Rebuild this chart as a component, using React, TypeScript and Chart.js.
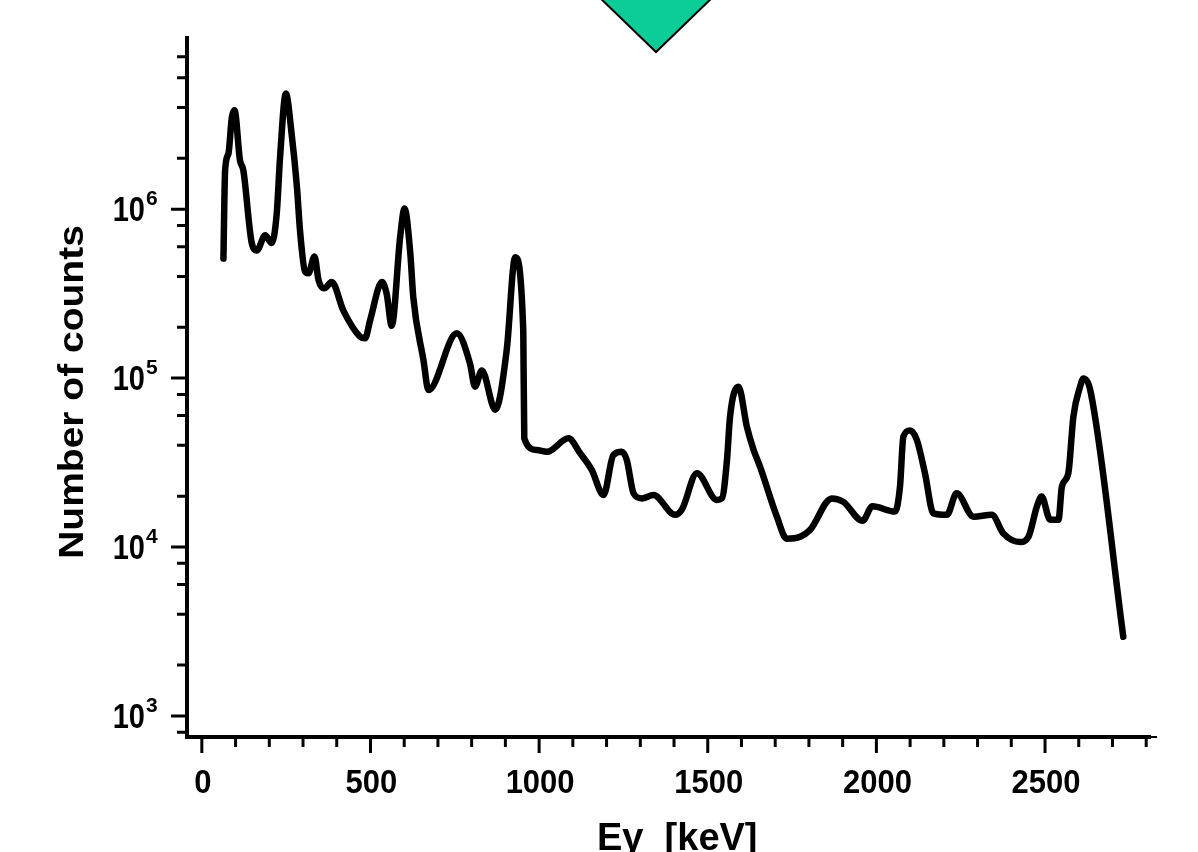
import React, { useEffect, useRef } from "react";
import { Chart, registerables } from "chart.js";

Chart.register(...registerables);

// Energy (keV) of traced points along the spectrum
const energies = [
  64, 69, 79, 89, 97, 113, 123, 148, 163, 188, 207, 222, 232, 249, 267, 282, 291, 306, 316, 334,
  346, 363, 385, 420, 469, 484, 499, 534, 548, 563, 588, 601, 618, 627, 657, 672, 756, 795, 810, 830,
  870, 904, 929, 953, 956, 993, 1023, 1087, 1122, 1156, 1191, 1220, 1245, 1260, 1280, 1305, 1339, 1403, 1423, 1468,
  1527, 1542, 1557, 1566, 1591, 1616, 1636, 1655, 1705, 1734, 1774, 1803, 1868, 1902, 1959, 1988, 2055, 2070, 2080, 2100,
  2120, 2144, 2169, 2209, 2238, 2288, 2342, 2377, 2426, 2451, 2476, 2490, 2515, 2540, 2550, 2569, 2584, 2604, 2614, 2634,
  2732,
];

// Number of counts at each energy
const counts = [
  5.1e5, 1.7e6, 2.14e6, 3.5e6, 3.85e6, 1.95e6, 1.7e6, 6.3e5, 5.7e5, 7.0e5, 6.3e5, 9.4e5, 2.04e6, 4.84e6, 2.7e6, 1.35e6, 7.5e5, 4.27e5, 4.17e5, 5.25e5,
  3.8e5, 3.4e5, 3.7e5, 2.5e5, 1.76e5, 1.72e5, 2.2e5, 3.7e5, 3.16e5, 2.04e5, 6.85e5, 1.01e6, 5.5e5, 3.0e5, 1.28e5, 8.5e4, 1.84e5, 1.22e5, 8.9e4, 1.11e5,
  6.5e4, 1.47e5, 5.2e5, 1.92e5, 4.4e4, 3.75e4, 3.66e4, 4.4e4, 3.58e4, 2.86e4, 2.03e4, 3.5e4, 3.66e4, 3.27e4, 2.08e4, 1.94e4, 2.03e4, 1.55e4, 1.66e4, 2.73e4,
  1.9e4, 1.94e4, 3.27e4, 5.9e4, 8.9e4, 5.15e4, 3.75e4, 2.99e4, 1.51e4, 1.12e4, 1.15e4, 1.26e4, 1.94e4, 1.85e4, 1.43e4, 1.74e4, 1.62e4, 2.28e4, 4.5e4, 4.9e4,
  4.3e4, 2.73e4, 1.58e4, 1.55e4, 2.08e4, 1.51e4, 1.55e4, 1.2e4, 1.07e4, 1.15e4, 1.74e4, 1.99e4, 1.45e4, 1.45e4, 2.28e4, 2.73e4, 5.9e4, 8.9e4, 9.95e4, 8.5e4,
  2.94e3,
];

const xMajorTicks = [0, 500, 1000, 1500, 2000, 2500];
const xMinorTicks = [100, 200, 300, 400, 600, 700, 800, 900, 1100, 1200, 1300, 1400, 1600, 1700, 1800, 1900, 2100, 2200, 2300, 2400, 2600, 2700, 2800];
const yDecadeExponents = [3, 4, 5, 6];
const yMinorMultipliers = [2, 4, 6, 8];
const yMinorDecades = [2, 3, 4, 5, 6];

const xTitle = "Eγ  [keV]";
const yTitle = "Number of counts";

const FONT = "'Liberation Sans', Arial, sans-serif";

function drawText(
  ctx: CanvasRenderingContext2D,
  text: string,
  x: number,
  y: number,
  size: number,
  align: CanvasTextAlign,
  sx = 1,
  sy = 1,
  rot = 0,
  weight = "bold"
) {
  ctx.save();
  ctx.translate(x, y);
  if (rot) ctx.rotate(rot);
  ctx.scale(sx, sy);
  ctx.font = `${weight} ${size}px ${FONT}`;
  ctx.textAlign = align;
  ctx.textBaseline = "alphabetic";
  ctx.fillStyle = "#000";
  ctx.fillText(text, 0, 0);
  ctx.restore();
}

const decorPlugin = {
  id: "decor",
  afterDraw(chart: any) {
    const { ctx, chartArea, scales } = chart;
    const xs = scales.x;
    const ys = scales.y;
    const { left, right, top, bottom } = chartArea;
    ctx.save();
    ctx.strokeStyle = "#000";
    ctx.lineCap = "butt";

    // axes
    ctx.lineWidth = 4;
    ctx.beginPath();
    ctx.moveTo(left, top);
    ctx.lineTo(left, bottom + 2);
    ctx.moveTo(left - 2, bottom);
    ctx.lineTo(right - 6, bottom);
    ctx.stroke();
    ctx.lineWidth = 2;
    ctx.beginPath();
    ctx.moveTo(right - 8, bottom);
    ctx.lineTo(right, bottom);
    ctx.stroke();

    // x ticks
    ctx.lineWidth = 3;
    ctx.beginPath();
    for (const v of xMajorTicks) {
      const px = xs.getPixelForValue(v);
      ctx.moveTo(px, bottom);
      ctx.lineTo(px, bottom + 16);
    }
    for (const v of xMinorTicks) {
      const px = xs.getPixelForValue(v);
      ctx.moveTo(px, bottom);
      ctx.lineTo(px, bottom + 10);
    }
    // y ticks
    for (const e of yDecadeExponents) {
      const py = ys.getPixelForValue(Math.pow(10, e));
      ctx.moveTo(left, py);
      ctx.lineTo(left - 16, py);
    }
    for (const d of yMinorDecades) {
      for (const m of yMinorMultipliers) {
        const v = m * Math.pow(10, d);
        if (v < ys.min || v > ys.max) continue;
        const py = ys.getPixelForValue(v);
        ctx.moveTo(left, py);
        ctx.lineTo(left - 10, py);
      }
    }
    ctx.stroke();

    // x tick labels
    for (const v of xMajorTicks) {
      const px = xs.getPixelForValue(v);
      drawText(ctx, String(v), px + 1, bottom + 56, 31, "center", 1, 1.1);
    }
    // y tick labels 10^n
    for (const e of yDecadeExponents) {
      const py = ys.getPixelForValue(Math.pow(10, e));
      drawText(ctx, "10", left - 42, py + 12, 29, "right", 1, 1.2);
      drawText(ctx, String(e), left - 41, py - 4, 21, "left", 1, 1);
    }

    // axis titles
    drawText(ctx, yTitle, 83, 392, 39, "center", 1, 0.88, -Math.PI / 2);
    drawText(ctx, xTitle, 597, 850, 38, "left", 1, 1);

    // decorative diamond at top
    ctx.beginPath();
    ctx.moveTo(596, -6);
    ctx.lineTo(656, 52);
    ctx.lineTo(716, -6);
    ctx.closePath();
    ctx.fillStyle = "#0ccd97";
    ctx.fill();
    ctx.lineWidth = 2;
    ctx.strokeStyle = "#000";
    ctx.stroke();

    ctx.restore();
  },
};

export default function App() {
  const ref = useRef<HTMLCanvasElement | null>(null);

  useEffect(() => {
    if (!ref.current) return;
    const chart = new Chart(ref.current, {
      type: "line",
      data: {
        datasets: [
          {
            data: energies.map((e, i) => ({ x: e, y: counts[i] })),
            borderColor: "#000",
            borderWidth: 6.5,
            pointRadius: 0,
            cubicInterpolationMode: "monotone",
            borderJoinStyle: "round",
            borderCapStyle: "round",
            fill: false,
          },
        ],
      },
      options: {
        animation: false,
        responsive: true,
        maintainAspectRatio: false,
        layout: { padding: { left: 187, right: 41, top: 36, bottom: 115 } },
        plugins: { legend: { display: false }, tooltip: { enabled: false } },
        scales: {
          x: {
            type: "linear",
            min: -44,
            max: 2832,
            grid: { display: false },
            border: { display: false },
            ticks: { display: false },
            afterFit: (s: any) => {
              s.height = 0;
            },
          },
          y: {
            type: "logarithmic",
            min: 750,
            max: 1.06e7,
            grid: { display: false },
            border: { display: false },
            ticks: { display: false },
            afterFit: (s: any) => {
              s.width = 0;
            },
          },
        },
      },
      plugins: [decorPlugin],
    } as any);
    return () => chart.destroy();
  }, []);

  return (
    <div style={{ position: "fixed", left: 0, top: 0, width: 1198, height: 852, background: "#fff" }}>
      <canvas ref={ref} />
    </div>
  );
}
